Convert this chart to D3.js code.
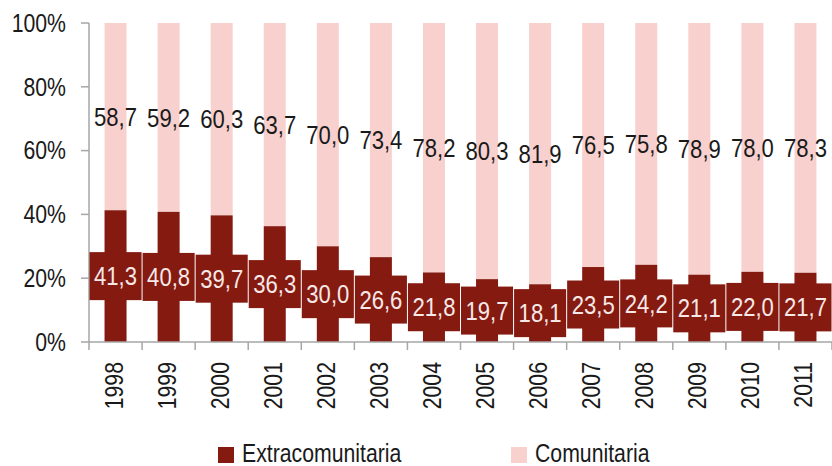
<!DOCTYPE html>
<html>
<head>
<meta charset="utf-8">
<script src="https://cdn.jsdelivr.net/npm/d3@7"></script>
<style>
  body { margin: 0; background: #fff; }
  svg { display: block; font-family: "Liberation Sans", Arial, sans-serif; }
</style>
</head>
<body>
<div id="chart"></div>
<script>
const years = ["1998", "1999", "2000", "2001", "2002", "2003", "2004", "2005", "2006", "2007", "2008", "2009", "2010", "2011"];
const extracomunitaria = [41.3, 40.8, 39.7, 36.3, 30.0, 26.6, 21.8, 19.7, 18.1, 23.5, 24.2, 21.1, 22.0, 21.7];
const comunitaria = [58.7, 59.2, 60.3, 63.7, 70.0, 73.4, 78.2, 80.3, 81.9, 76.5, 75.8, 78.9, 78.0, 78.3];
const yTicks = [0, 20, 40, 60, 80, 100];
const seriesNames = ["Extracomunitaria", "Comunitaria"];

const darkRed = "#851a10";
const pink = "#f8d0cd";
const axisGray = "#a6a6a6";
const textColor = "#1a1a1a";

const width = 832, height = 466;
const plotLeft = 89, plotRight = 832, plotTop = 23, plotBottom = 342;
// the original font is a narrow one, so squeeze Liberation Sans a bit
const squeeze = 0.85;

const svg = d3.select("#chart")
  .append("svg")
  .attr("width", width)
  .attr("height", height);

const x = d3.scaleBand()
  .domain(years)
  .range([plotLeft, plotRight]);

const y = d3.scaleLinear()
  .domain([0, 100])
  .range([plotBottom, plotTop]);

const barWidth = 22;
const fmt = v => v.toFixed(1).replace(".", ",");
const at = (px, py, rot) => "translate(" + px + "," + py + ")" + (rot ? " rotate(" + rot + ")" : "") + " scale(" + squeeze + ",1)";

const rows = years.map((yr, i) => ({
  year: yr,
  extra: extracomunitaria[i],
  com: comunitaria[i]
}));

// pink (comunitaria) on top
svg.selectAll("rect.com")
  .data(rows)
  .enter()
  .append("rect")
  .attr("class", "com")
  .attr("x", d => x(d.year) + x.bandwidth() / 2 - barWidth / 2)
  .attr("width", barWidth)
  .attr("y", d => y(d.extra + d.com))
  .attr("height", d => y(d.extra) - y(d.extra + d.com))
  .attr("fill", pink);

// dark red (extracomunitaria) at bottom
svg.selectAll("rect.extra")
  .data(rows)
  .enter()
  .append("rect")
  .attr("class", "extra")
  .attr("x", d => x(d.year) + x.bandwidth() / 2 - barWidth / 2)
  .attr("width", barWidth)
  .attr("y", d => y(d.extra))
  .attr("height", d => y(0) - y(d.extra))
  .attr("fill", darkRed);

// y axis
svg.append("line")
  .attr("x1", plotLeft).attr("x2", plotLeft)
  .attr("y1", y(100)).attr("y2", y(0))
  .attr("stroke", axisGray)
  .attr("stroke-width", 1.5);

svg.selectAll("line.ytick")
  .data(yTicks)
  .enter()
  .append("line")
  .attr("class", "ytick")
  .attr("x1", plotLeft - 8).attr("x2", plotLeft)
  .attr("y1", d => y(d)).attr("y2", d => y(d))
  .attr("stroke", axisGray)
  .attr("stroke-width", 1.5);

svg.selectAll("text.ylab")
  .data(yTicks)
  .enter()
  .append("text")
  .attr("class", "ylab")
  .attr("transform", d => at(66, y(d)))
  .attr("dy", "0.35em")
  .attr("text-anchor", "end")
  .attr("font-size", 25)
  .attr("fill", textColor)
  .text(d => d + "%");

// x axis
svg.append("line")
  .attr("x1", plotLeft).attr("x2", plotRight)
  .attr("y1", y(0)).attr("y2", y(0))
  .attr("stroke", axisGray)
  .attr("stroke-width", 1.5);

svg.selectAll("line.xtick")
  .data(years.concat(["end"]))
  .enter()
  .append("line")
  .attr("class", "xtick")
  .attr("x1", (d, i) => plotLeft + i * x.bandwidth())
  .attr("x2", (d, i) => plotLeft + i * x.bandwidth())
  .attr("y1", y(0)).attr("y2", y(0) + 8)
  .attr("stroke", axisGray)
  .attr("stroke-width", 1.5);

svg.selectAll("text.xlab")
  .data(years)
  .enter()
  .append("text")
  .attr("class", "xlab")
  .attr("transform", d => at(x(d) + x.bandwidth() / 2 + 7, 362, -90))
  .attr("text-anchor", "end")
  .attr("font-size", 25)
  .attr("fill", textColor)
  .text(d => d);

// comunitaria labels (plain)
svg.selectAll("text.comlab")
  .data(rows)
  .enter()
  .append("text")
  .attr("class", "comlab")
  .attr("transform", d => at(x(d.year) + x.bandwidth() / 2, y(d.extra + d.com / 2)))
  .attr("dy", "0.35em")
  .attr("text-anchor", "middle")
  .attr("font-size", 26)
  .attr("fill", textColor)
  .text(d => fmt(d.com));

// extracomunitaria labels (boxed)
const boxH = 48;
svg.selectAll("rect.labbox")
  .data(rows)
  .enter()
  .append("rect")
  .attr("class", "labbox")
  .attr("x", d => x(d.year) + 0.5)
  .attr("width", x.bandwidth() - 1)
  .attr("y", d => y(d.extra / 2) - boxH / 2)
  .attr("height", boxH)
  .attr("fill", darkRed);

svg.selectAll("text.extralab")
  .data(rows)
  .enter()
  .append("text")
  .attr("class", "extralab")
  .attr("transform", d => at(x(d.year) + x.bandwidth() / 2, y(d.extra / 2)))
  .attr("dy", "0.35em")
  .attr("text-anchor", "middle")
  .attr("font-size", 26)
  .attr("fill", "#f6e8e7")
  .text(d => fmt(d.extra));

// legend
const legendX = [218, 511];
const legend = svg.selectAll("g.legend")
  .data(seriesNames)
  .enter()
  .append("g")
  .attr("class", "legend")
  .attr("transform", (d, i) => "translate(" + legendX[i] + ",447)");

legend.append("rect")
  .attr("width", 16)
  .attr("height", 16)
  .attr("fill", (d, i) => i === 0 ? darkRed : pink);

legend.append("text")
  .attr("transform", at(24, 15))
  .attr("font-size", 25)
  .attr("fill", textColor)
  .text(d => d);
</script>
</body>
</html>
